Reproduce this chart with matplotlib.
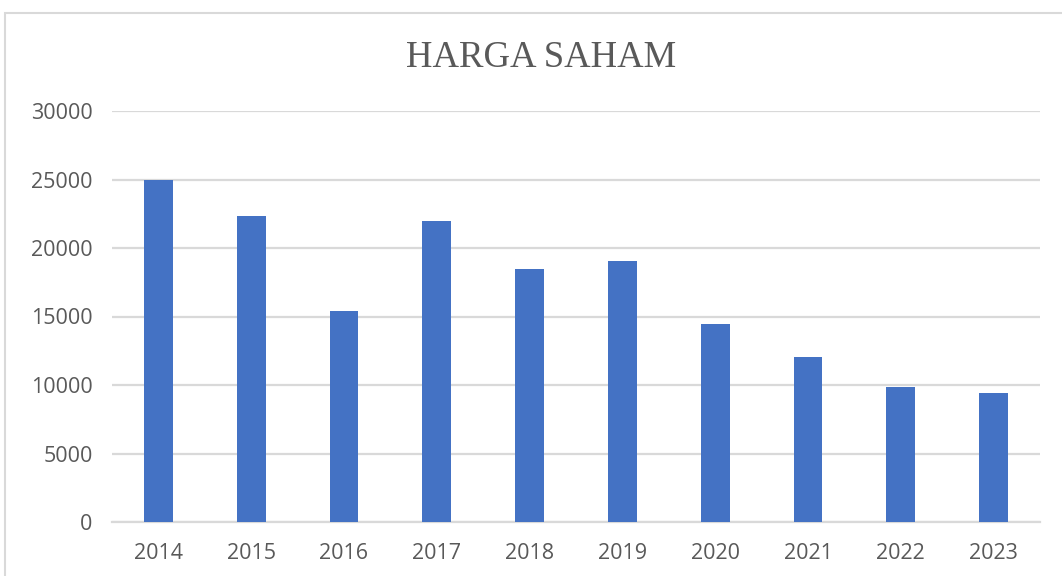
import matplotlib.pyplot as plt
from matplotlib.patches import Rectangle

years = ['2014', '2015', '2016', '2017', '2018', '2019', '2020', '2021', '2022', '2023']
harga = [25000, 22300, 15380, 21940, 18440, 19020, 14460, 12080, 9880, 9400]
yticks = [0, 5000, 10000, 15000, 20000, 25000, 30000]

text_color = '#595959'
grid_color = '#d9d9d9'

fig = plt.figure(figsize=(10.62, 5.76), dpi=100)
ax = fig.add_axes([112 / 1062, 1 - 522 / 576, 928 / 1062, 411 / 576])

# chart area border (cut off at right and bottom like the screenshot)
fig.patches.append(Rectangle((5 / 1062, -0.2), 1.2, 0.2 + 1 - 13 / 576,
                             transform=fig.transFigure, fill=False,
                             edgecolor=grid_color, linewidth=1.5))

x = range(len(years))
ax.bar(x, harga, width=0.31, color='#4472C4', zorder=3)

ax.set_xlim(-0.5, len(years) - 0.5)
ax.set_ylim(0, 30000)
ax.set_yticks(yticks)
ax.set_yticklabels([str(t) for t in yticks])
ax.set_xticks(list(x))
ax.set_xticklabels(years)

ax.yaxis.grid(True, color=grid_color, linewidth=1.6, zorder=0)
for s in ['top', 'right', 'left']:
    ax.spines[s].set_visible(False)
ax.spines['bottom'].set_color(grid_color)
ax.spines['bottom'].set_linewidth(1.6)
ax.tick_params(axis='both', length=0, colors=text_color, labelsize=15.5)
ax.tick_params(axis='y', pad=14)
ax.tick_params(axis='x', pad=15)
for lab in ax.get_xticklabels() + ax.get_yticklabels():
    lab.set_family('Open Sans')

fig.text(541 / 1062, 1 - 58 / 576, 'HARGA SAHAM', ha='center', va='center',
         fontsize=26.5, color=text_color, family='Liberation Serif')

fig.savefig('out.png', dpi=100)
